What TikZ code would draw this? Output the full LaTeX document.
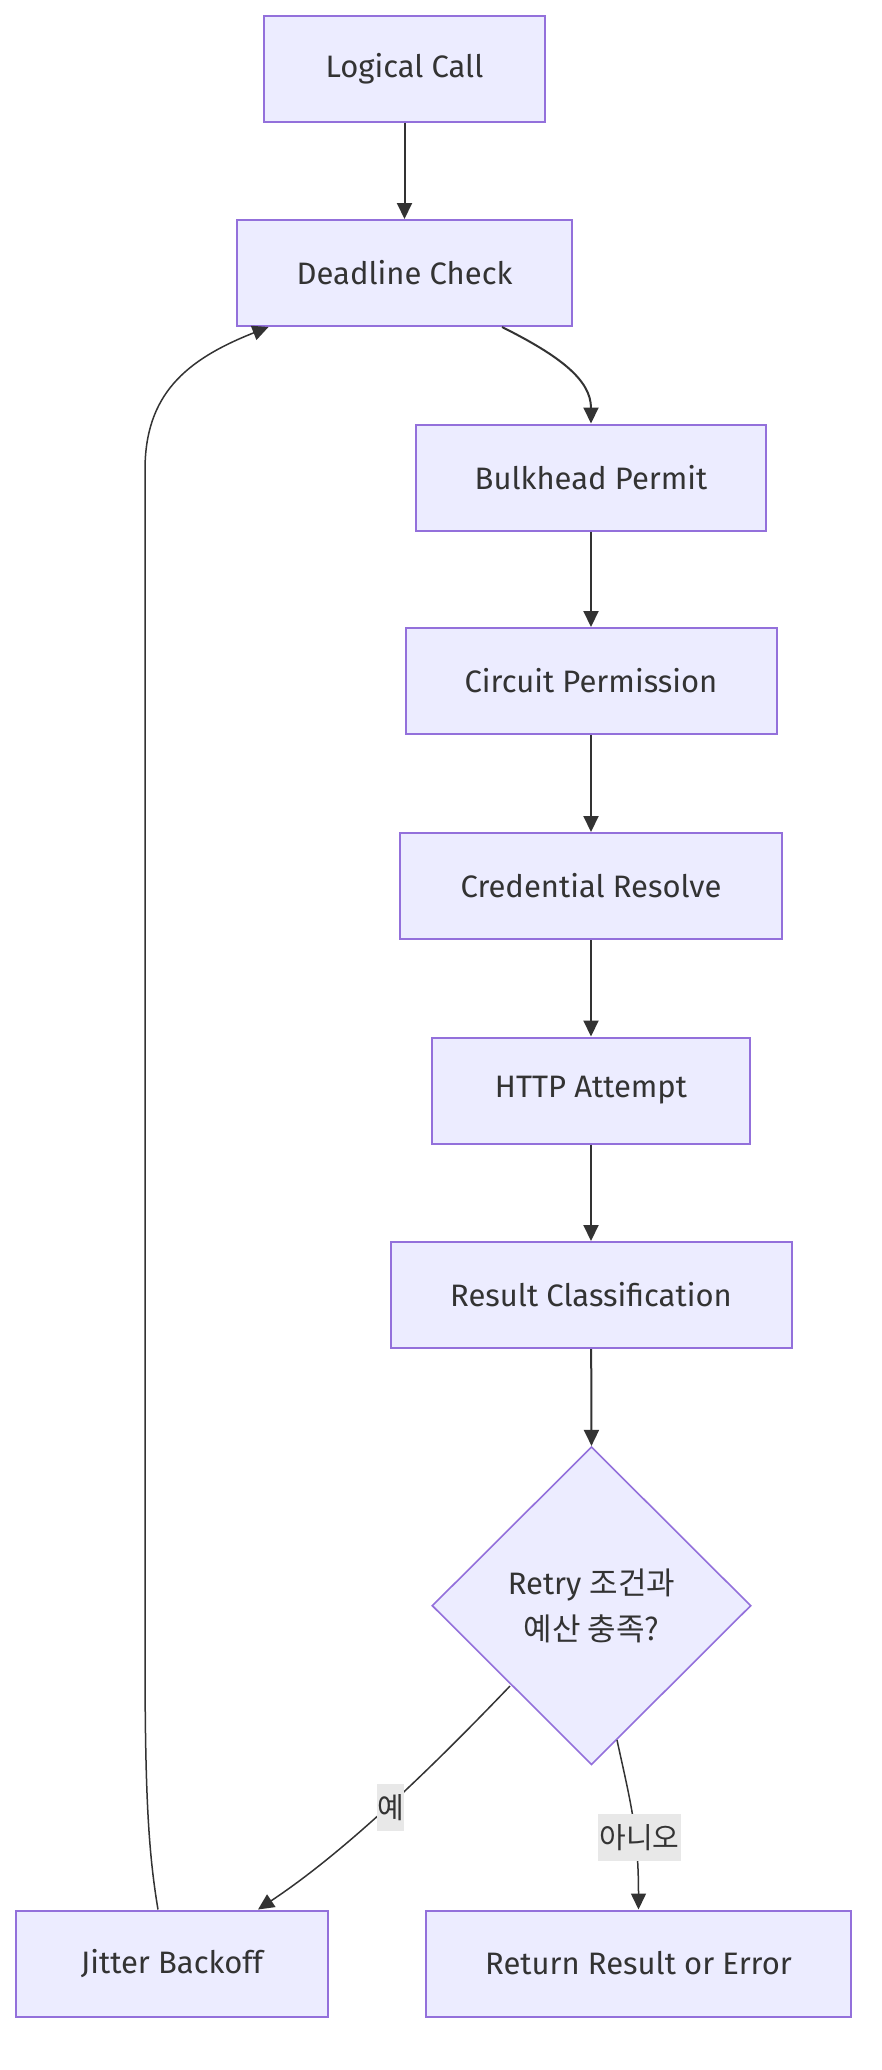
\documentclass[tikz,border=0pt]{standalone}
\usepackage{fontspec}
\setmainfont{Fira Sans}
\newfontfamily\kr{Noto Sans CJK KR}
\usetikzlibrary{arrows.meta,shapes.geometric}
\definecolor{boxfill}{HTML}{ECECFF}
\definecolor{boxline}{HTML}{9370DB}
\definecolor{ink}{HTML}{333333}
\definecolor{lblbg}{HTML}{E8E8E8}
\tikzset{
  proc/.style={draw=boxline, fill=boxfill, line width=2pt, minimum height=106pt, inner sep=0pt, text=ink, font=\fontsize{31}{40}\selectfont},
  decision/.style={diamond, draw=boxline, fill=boxfill, line width=1.6pt, minimum width=319pt, minimum height=318pt, inner sep=0pt, text=ink, align=center, font=\fontsize{31}{46}\selectfont},
  conn/.style={draw=ink, line width=2pt, -{Triangle[length=16pt,width=15pt]}},
  thin conn/.style={draw=ink, line width=1.5pt, -{Triangle[length=16pt,width=15pt]}},
  elabel/.style={fill=lblbg, text=ink, inner sep=0pt, minimum height=47pt, font=\kr\fontsize{29}{36}\selectfont}
}
\begin{document}
\begin{tikzpicture}[x=1pt,y=-1pt]
\path[use as bounding box] (0,0) rectangle (882,2070);
\node[proc, minimum width=281pt] (call) at (404.5,68.5) {Logical Call};
\node[proc, minimum width=335pt] (dead) at (404.5,273) {Deadline Check};
\node[proc, minimum width=350pt] (bulk) at (591,477.5) {Bulkhead Permit};
\node[proc, minimum width=371pt] (circ) at (591,681) {Circuit Permission};
\node[proc, minimum width=382pt] (cred) at (591,886) {Credential Resolve};
\node[proc, minimum width=318pt] (http) at (591,1090.5) {HTTP Attempt};
\node[proc, minimum width=401pt] (clas) at (591,1295) {Result Classification};
\node[decision] (dec) at (591.5,1605.7) {Retry {\kr 조건과}\\{\kr 예산 충족?}};
\node[proc, minimum width=312pt] (jit) at (172,1963.5) {Jitter Backoff};
\node[proc, minimum width=425pt] (ret) at (638.5,1963.5) {Return Result or Error};

\draw[conn] (call) -- (dead);
\draw[conn] ([xshift=97.5pt]dead.south) .. controls (560,356) and (591,380) .. (bulk.north);
\draw[conn] (bulk) -- (circ);
\draw[conn] (circ) -- (cred);
\draw[conn] (cred) -- (http);
\draw[conn] (http) -- (clas);
\draw[conn] (clas) -- (dec.north);
\draw[thin conn] ([shift={(-81.5,80.3)}]dec.center) .. controls (420,1780) and (340,1855) .. ([xshift=86pt]jit.north);
\draw[thin conn] ([shift={(25.5,134.3)}]dec.center) .. controls (630,1800) and (638.5,1830) .. (ret.north);
\draw[thin conn] ([xshift=-14pt]jit.north) .. controls (148,1850) and (145,1790) .. (145,1650) -- (145,470) .. controls (145,395) and (185,360) .. ([xshift=-136pt]dead.south);
\node[elabel, minimum width=27pt] (yes) at (390.5,1807.5) {예};
\node[elabel, minimum width=83pt] (no) at (639.5,1837.5) {아니오};
\end{tikzpicture}
\end{document}
